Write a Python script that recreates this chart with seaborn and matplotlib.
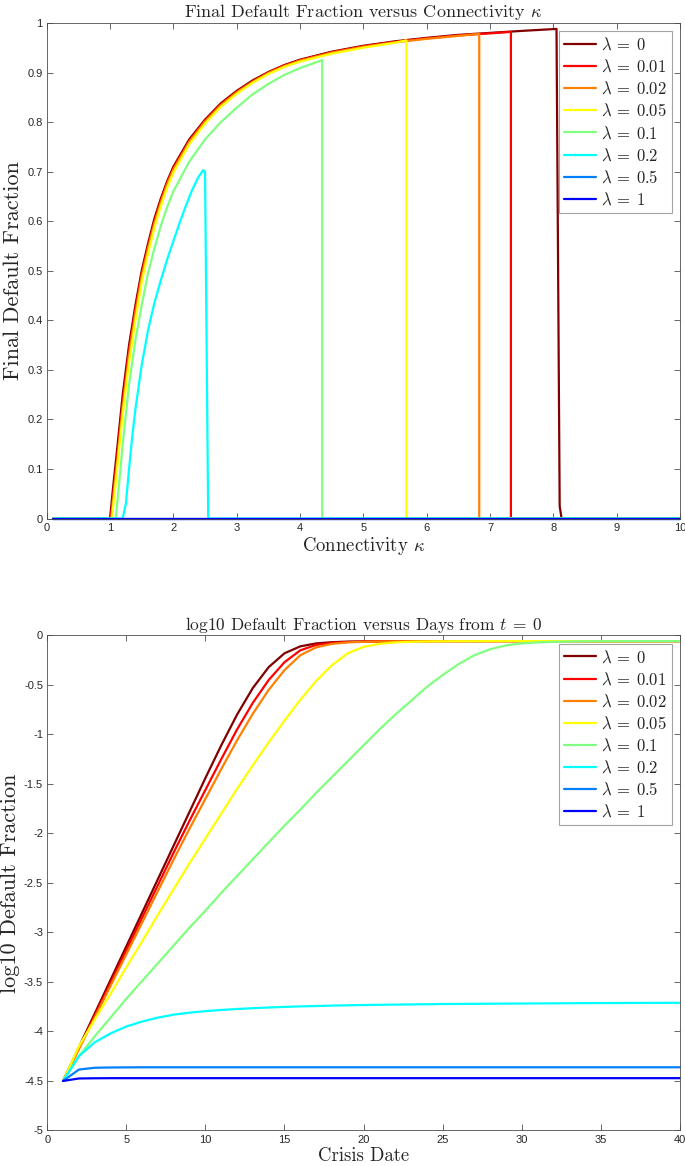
import numpy as np
import pandas as pd
import matplotlib
matplotlib.use("Agg")
import matplotlib.pyplot as plt
from matplotlib.ticker import FuncFormatter
import seaborn as sns

# Legend labels and colours (jet-like, one per lambda)
lam_labels = [r"$\lambda\:=\:0$", r"$\lambda\:=\:0.01$", r"$\lambda\:=\:0.02$", r"$\lambda\:=\:0.05$",
              r"$\lambda\:=\:0.1$", r"$\lambda\:=\:0.2$", r"$\lambda\:=\:0.5$", r"$\lambda\:=\:1$"]
lam_colors = ["#800000", "#ff0000", "#ff8000", "#ffff00",
              "#80ff80", "#00ffff", "#0080ff", "#0000ff"]

# ---- top panel: final default fraction vs connectivity kappa ----
kap_0 = [0.1, 1.0, 1.05, 1.1, 1.2, 1.3, 1.4, 1.5, 1.6, 1.7, 1.8, 1.9, 2.0, 2.25, 2.5, 2.75,
         3.0, 3.25, 3.5, 3.75, 4.0, 4.5, 5.0, 5.5, 6.0, 6.5, 7.0, 7.5, 8.05, 8.1, 8.13, 10.0]
frac_0 = [0, 0, 0.065, 0.125, 0.25, 0.35, 0.43, 0.50, 0.555, 0.605, 0.645, 0.68, 0.71, 0.765, 0.805, 0.838,
          0.863, 0.884, 0.901, 0.915, 0.926, 0.942, 0.954, 0.963, 0.970, 0.976, 0.980, 0.984, 0.988, 0.025, 0, 0]

kap_001 = [0.1, 1.01, 1.05, 1.1, 1.2, 1.3, 1.4, 1.5, 1.6, 1.7, 1.8, 1.9, 2.0, 2.25, 2.5, 2.75,
           3.0, 3.25, 3.5, 3.75, 4.0, 4.5, 5.0, 5.5, 6.0, 6.5, 7.0, 7.33, 7.33, 10.0]
frac_001 = [0, 0, 0.05, 0.11, 0.235, 0.34, 0.422, 0.494, 0.55, 0.60, 0.641, 0.677, 0.707, 0.762, 0.803, 0.836,
            0.861, 0.882, 0.900, 0.914, 0.925, 0.941, 0.953, 0.962, 0.969, 0.975, 0.979, 0.982, 0, 0]

kap_002 = [0.1, 1.02, 1.05, 1.1, 1.2, 1.3, 1.4, 1.5, 1.6, 1.7, 1.8, 1.9, 2.0, 2.25, 2.5, 2.75,
           3.0, 3.25, 3.5, 3.75, 4.0, 4.5, 5.0, 5.5, 6.0, 6.5, 6.83, 6.83, 10.0]
frac_002 = [0, 0, 0.04, 0.10, 0.225, 0.33, 0.414, 0.488, 0.545, 0.595, 0.637, 0.674, 0.704, 0.760, 0.801, 0.834,
            0.860, 0.881, 0.899, 0.913, 0.924, 0.940, 0.952, 0.961, 0.968, 0.974, 0.978, 0, 0]

kap_005 = [0.1, 1.03, 1.05, 1.1, 1.2, 1.3, 1.4, 1.5, 1.6, 1.7, 1.8, 1.9, 2.0, 2.25, 2.5, 2.75,
           3.0, 3.25, 3.5, 3.75, 4.0, 4.5, 5.0, 5.5, 5.68, 5.68, 10.0]
frac_005 = [0, 0, 0.025, 0.085, 0.21, 0.315, 0.40, 0.477, 0.535, 0.587, 0.630, 0.667, 0.698, 0.755, 0.797, 0.831,
            0.857, 0.879, 0.897, 0.911, 0.922, 0.938, 0.950, 0.960, 0.965, 0, 0]

kap_01 = [0.1, 1.09, 1.15, 1.2, 1.3, 1.4, 1.5, 1.6, 1.7, 1.8, 1.9, 2.0, 2.25, 2.5, 2.75,
          3.0, 3.25, 3.5, 3.75, 4.0, 4.35, 4.35, 10.0]
frac_01 = [0, 0, 0.08, 0.15, 0.27, 0.36, 0.43, 0.495, 0.545, 0.59, 0.628, 0.66, 0.72, 0.765, 0.80,
           0.829, 0.856, 0.877, 0.895, 0.909, 0.925, 0, 0]

kap_02 = [0.1, 1.2, 1.25, 1.3, 1.35, 1.4, 1.5, 1.6, 1.7, 1.8, 1.9, 2.0, 2.1, 2.2, 2.3, 2.4,
          2.47, 2.5, 2.55, 10.0]
frac_02 = [0, 0, 0.03, 0.10, 0.165, 0.22, 0.31, 0.38, 0.435, 0.48, 0.522, 0.56, 0.597, 0.632, 0.664, 0.69,
           0.703, 0.70, 0, 0]

kap_05 = [0.1, 10.0]
frac_05 = [0, 0]
kap_1 = [0.1, 10.0]
frac_1 = [0, 0]

# ---- bottom panel: log10 default fraction vs crisis date ----
days = [1, 2, 3, 4, 5, 6, 7, 8, 9, 10, 11, 12, 13, 14, 15, 16, 17, 18, 19, 20,
        21, 22, 23, 24, 25, 26, 27, 28, 29, 30, 31, 32, 33, 34, 35, 36, 37, 38, 39, 40]
log_0 = [-4.50, -4.16, -3.82, -3.48, -3.14, -2.80, -2.46, -2.12, -1.78, -1.44,
         -1.11, -0.80, -0.53, -0.32, -0.18, -0.11, -0.08, -0.068, -0.062, -0.060,
         -0.059, -0.058, -0.058, -0.057, -0.057, -0.057, -0.057, -0.057, -0.057, -0.057,
         -0.057, -0.057, -0.057, -0.057, -0.057, -0.057, -0.057, -0.057, -0.057, -0.057]
log_001 = [-4.50, -4.17, -3.84, -3.51, -3.18, -2.85, -2.52, -2.19, -1.87, -1.56,
           -1.25, -0.95, -0.68, -0.45, -0.27, -0.15, -0.095, -0.075, -0.066, -0.062,
           -0.060, -0.059, -0.058, -0.058, -0.057, -0.057, -0.057, -0.057, -0.057, -0.057,
           -0.057, -0.057, -0.057, -0.057, -0.057, -0.057, -0.057, -0.057, -0.057, -0.057]
log_002 = [-4.50, -4.18, -3.86, -3.54, -3.22, -2.90, -2.58, -2.26, -1.95, -1.65,
           -1.35, -1.06, -0.79, -0.55, -0.35, -0.20, -0.12, -0.085, -0.070, -0.064,
           -0.061, -0.059, -0.058, -0.058, -0.057, -0.057, -0.057, -0.057, -0.057, -0.057,
           -0.057, -0.057, -0.057, -0.057, -0.057, -0.057, -0.057, -0.057, -0.057, -0.057]
log_005 = [-4.50, -4.15, -3.88, -3.62, -3.35, -3.09, -2.82, -2.56, -2.30, -2.05,
           -1.80, -1.55, -1.31, -1.08, -0.86, -0.65, -0.46, -0.30, -0.18, -0.115,
           -0.085, -0.070, -0.064, -0.061, -0.059, -0.058, -0.058, -0.057, -0.057, -0.057,
           -0.057, -0.057, -0.057, -0.057, -0.057, -0.057, -0.057, -0.057, -0.057, -0.057]
log_01 = [-4.50, -4.25, -4.05, -3.86, -3.67, -3.49, -3.31, -3.13, -2.95, -2.78,
          -2.60, -2.43, -2.26, -2.09, -1.92, -1.76, -1.59, -1.43, -1.27, -1.11,
          -0.95, -0.80, -0.66, -0.52, -0.40, -0.29, -0.20, -0.14, -0.10, -0.08,
          -0.07, -0.064, -0.061, -0.059, -0.058, -0.058, -0.057, -0.057, -0.057, -0.057]
log_02 = [-4.50, -4.25, -4.11, -4.02, -3.95, -3.90, -3.86, -3.83, -3.81, -3.795,
          -3.783, -3.773, -3.765, -3.758, -3.752, -3.747, -3.743, -3.739, -3.736, -3.733,
          -3.731, -3.729, -3.727, -3.725, -3.723, -3.722, -3.721, -3.720, -3.719, -3.718,
          -3.717, -3.716, -3.715, -3.714, -3.713, -3.713, -3.712, -3.712, -3.711, -3.711]
log_05 = [-4.50, -4.385, -4.367, -4.364, -4.363, -4.362, -4.362, -4.362, -4.362, -4.362,
          -4.362, -4.362, -4.362, -4.362, -4.362, -4.362, -4.362, -4.362, -4.362, -4.362,
          -4.362, -4.362, -4.362, -4.362, -4.362, -4.362, -4.362, -4.362, -4.362, -4.362,
          -4.362, -4.362, -4.362, -4.362, -4.362, -4.362, -4.362, -4.362, -4.362, -4.362]
log_1 = [-4.50, -4.475, -4.473, -4.472, -4.472, -4.472, -4.472, -4.472, -4.472, -4.472,
         -4.472, -4.472, -4.472, -4.472, -4.472, -4.472, -4.472, -4.472, -4.472, -4.472,
         -4.472, -4.472, -4.472, -4.472, -4.472, -4.472, -4.472, -4.472, -4.472, -4.472,
         -4.472, -4.472, -4.472, -4.472, -4.472, -4.472, -4.472, -4.472, -4.472, -4.472]

top_curves = [(kap_0, frac_0), (kap_001, frac_001), (kap_002, frac_002), (kap_005, frac_005),
              (kap_01, frac_01), (kap_02, frac_02), (kap_05, frac_05), (kap_1, frac_1)]
bottom_curves = [log_0, log_001, log_002, log_005, log_01, log_02, log_05, log_1]

top_df = pd.concat([pd.DataFrame({"kappa": k, "frac": f, "lam": lab})
                    for (k, f), lab in zip(top_curves, lam_labels)], ignore_index=True)
bot_df = pd.concat([pd.DataFrame({"day": days, "logfrac": v, "lam": lab})
                    for v, lab in zip(bottom_curves, lam_labels)], ignore_index=True)

sns.set_theme(style="white")
plt.rcParams["font.family"] = ["Liberation Sans", "DejaVu Sans"]
plt.rcParams["mathtext.fontset"] = "cm"
plt.rcParams["axes.unicode_minus"] = False

palette = dict(zip(lam_labels, lam_colors))
edge = "#4d4d4d"
serif = "cmr10"

fig = plt.figure(figsize=(6.85, 11.66), dpi=100)
ax1 = fig.add_axes([0.0682, 0.5553, 0.9245, 0.4250])
ax2 = fig.add_axes([0.0690, 0.0305, 0.9235, 0.4245])


def style_axes(ax):
    for s in ax.spines.values():
        s.set_color(edge)
        s.set_linewidth(0.6)
    ax.tick_params(direction="in", length=4.5, width=0.6, color=edge, labelcolor="#262626",
                   labelsize=8, top=True, right=True, bottom=True, left=True, pad=3)
    ax.xaxis.set_major_formatter(FuncFormatter(lambda v, p: f"{v:g}"))
    ax.yaxis.set_major_formatter(FuncFormatter(lambda v, p: f"{v:g}"))


def add_legend(ax):
    handles = ax.get_lines()[:len(lam_labels)]
    leg = ax.legend(handles, lam_labels, loc="upper right", fontsize=12, frameon=True, fancybox=False,
                    borderaxespad=0.5, handlelength=1.9, handletextpad=0.3, labelspacing=0.34,
                    borderpad=0.3)
    leg.get_frame().set_edgecolor("#8c8c8c")
    leg.get_frame().set_linewidth(0.8)


# top panel
sns.lineplot(data=top_df, x="kappa", y="frac", hue="lam", hue_order=lam_labels, palette=palette,
             estimator=None, sort=False, linewidth=1.6, legend=False, ax=ax1)
ax1.set_xlim(0, 10)
ax1.set_ylim(0, 1)
ax1.set_xticks(np.arange(0, 11, 1))
ax1.set_yticks(np.arange(0, 1.01, 0.1))
style_axes(ax1)
ax1.set_title(r"Final Default Fraction versus Connectivity $\kappa$", fontsize=13, family=serif, pad=4)
ax1.set_xlabel(r"Connectivity $\kappa$", fontsize=13.5, family=serif, labelpad=2)
ax1.set_ylabel("Final Default Fraction", fontsize=16, family=serif, labelpad=3)
add_legend(ax1)

# bottom panel
sns.lineplot(data=bot_df, x="day", y="logfrac", hue="lam", hue_order=lam_labels, palette=palette,
             estimator=None, sort=False, linewidth=1.6, legend=False, ax=ax2)
ax2.set_xlim(0, 40)
ax2.set_ylim(-5, 0)
ax2.set_xticks(np.arange(0, 41, 5))
ax2.set_yticks(np.arange(-5, 0.01, 0.5))
style_axes(ax2)
ax2.set_title(r"log10 Default Fraction versus Days from $t\:=\:0$", fontsize=12.5, family=serif, pad=4)
ax2.set_xlabel("Crisis Date", fontsize=13.5, family=serif, labelpad=2)
ax2.set_ylabel("log10 Default Fraction", fontsize=16, family=serif, labelpad=3)
add_legend(ax2)

for ax in (ax1, ax2):
    for ln in ax.get_lines():
        ln.set_clip_on(False)

fig.savefig("out.png", dpi=100, facecolor="white")
